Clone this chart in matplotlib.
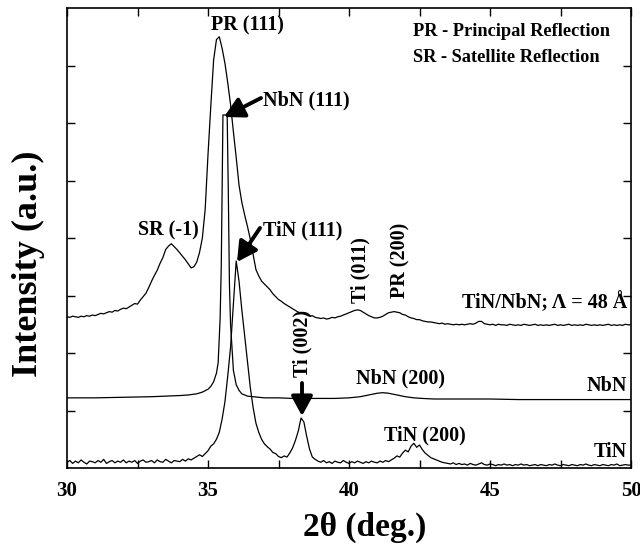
import numpy as np
import matplotlib
matplotlib.use("Agg")
import matplotlib.pyplot as plt

# ---------------- data ----------------
two_theta = np.round(np.arange(30.0, 50.0001, 0.1), 2)

multilayer = [
    2.63, 2.62, 2.64, 2.63, 2.62, 2.64, 2.63, 2.65, 2.64, 2.66,
    2.65, 2.67, 2.69, 2.68, 2.70, 2.72, 2.71, 2.74, 2.73, 2.76,
    2.78, 2.77, 2.80, 2.83, 2.86, 2.85, 2.92, 2.98, 3.04, 3.14,
    3.25, 3.35, 3.44, 3.56, 3.66, 3.80, 3.86, 3.90, 3.85, 3.80,
    3.74, 3.68, 3.62, 3.55, 3.48, 3.50, 3.58, 3.75, 4.00, 4.50,
    5.45, 6.30, 7.10, 7.45, 7.50, 7.30, 7.04, 6.70, 6.32, 5.85,
    5.40, 4.92, 4.62, 4.40, 4.20, 3.98, 3.72, 3.45, 3.34, 3.25,
    3.20, 3.15, 3.10, 3.03, 2.98, 2.93, 2.90, 2.86, 2.83, 2.80,
    2.77, 2.74, 2.71, 2.70, 2.68, 2.66, 2.64, 2.65, 2.62, 2.61,
    2.60, 2.61, 2.59, 2.60, 2.62, 2.61, 2.63, 2.64, 2.66, 2.68,
    2.70, 2.72, 2.74, 2.75, 2.74, 2.71, 2.68, 2.65, 2.63, 2.61,
    2.61, 2.62, 2.64, 2.67, 2.70, 2.71, 2.72, 2.71, 2.70, 2.67,
    2.66, 2.63, 2.61, 2.60, 2.58, 2.58, 2.56, 2.55, 2.54, 2.54,
    2.53, 2.52, 2.51, 2.52, 2.50, 2.51, 2.50, 2.49, 2.50, 2.49,
    2.50, 2.49, 2.50, 2.51, 2.50, 2.52, 2.55, 2.55, 2.51, 2.50,
    2.49, 2.50, 2.48, 2.50, 2.49, 2.49, 2.48, 2.50, 2.49, 2.48,
    2.49, 2.48, 2.50, 2.49, 2.48, 2.49, 2.50, 2.48, 2.49, 2.48,
    2.49, 2.48, 2.49, 2.50, 2.48, 2.49, 2.48, 2.49, 2.50, 2.48,
    2.49, 2.48, 2.49, 2.48, 2.50, 2.49, 2.48, 2.49, 2.48, 2.49,
    2.48, 2.49, 2.50, 2.48, 2.49, 2.48, 2.49, 2.48, 2.50, 2.49,
    2.49,
]

tin = [
    0.10, 0.13, 0.08, 0.12, 0.09, 0.14, 0.10, 0.07, 0.12, 0.11,
    0.09, 0.13, 0.10, 0.15, 0.08, 0.11, 0.13, 0.09, 0.12, 0.10,
    0.14, 0.09, 0.12, 0.10, 0.13, 0.08, 0.12, 0.14, 0.10, 0.11,
    0.13, 0.09, 0.14, 0.11, 0.10, 0.15, 0.12, 0.09, 0.13, 0.12,
    0.11, 0.15, 0.12, 0.16, 0.14, 0.17, 0.20, 0.23, 0.20, 0.25,
    0.30, 0.38, 0.42, 0.50, 0.62, 0.85, 1.15, 1.60, 2.10, 2.85,
    3.60, 3.25, 2.75, 2.30, 1.85, 1.40, 1.05, 0.78, 0.62, 0.50,
    0.42, 0.37, 0.33, 0.27, 0.25, 0.20, 0.18, 0.21, 0.19, 0.26,
    0.35, 0.48, 0.64, 0.87, 0.80, 0.55, 0.33, 0.19, 0.15, 0.12,
    0.10, 0.13, 0.09, 0.11, 0.08, 0.12, 0.10, 0.09, 0.13, 0.10,
    0.08, 0.11, 0.09, 0.12, 0.10, 0.08, 0.11, 0.09, 0.12, 0.10,
    0.09, 0.12, 0.10, 0.13, 0.11, 0.14, 0.17, 0.21, 0.19, 0.26,
    0.31, 0.28, 0.38, 0.43, 0.36, 0.40, 0.32, 0.26, 0.22, 0.18,
    0.16, 0.14, 0.12, 0.10, 0.09, 0.08, 0.07, 0.09, 0.06, 0.08,
    0.06, 0.07, 0.05, 0.08, 0.06, 0.05, 0.07, 0.09, 0.06, 0.05,
    0.07, 0.06, 0.04, 0.06, 0.05, 0.07, 0.05, 0.06, 0.04, 0.06,
    0.05, 0.07, 0.05, 0.06, 0.04, 0.05, 0.06, 0.04, 0.06, 0.05,
    0.04, 0.06, 0.05, 0.07, 0.05, 0.04, 0.06, 0.05, 0.04, 0.06,
    0.05, 0.04, 0.06, 0.05, 0.07, 0.05, 0.04, 0.06, 0.05, 0.04,
    0.06, 0.05, 0.04, 0.06, 0.05, 0.07, 0.04, 0.05, 0.06, 0.05,
    0.05,
]

nbn_x = [30.0, 31.0, 32.0, 33.0, 33.5, 34.0, 34.3, 34.6, 34.8, 35.0,
         35.1, 35.2, 35.3, 35.36, 35.43, 35.47, 35.5, 35.53, 35.68, 35.72,
         35.76, 35.8, 35.9, 36.0, 36.1, 36.2, 36.4, 36.6, 36.8, 37.0,
         37.5, 38.0, 38.5, 39.0, 39.5, 40.0, 40.4, 40.7, 41.0, 41.2,
         41.4, 41.7, 42.0, 42.3, 42.6, 43.0, 44.0, 45.0, 46.0, 47.0,
         48.0, 49.0, 50.0]
nbn_y = [1.22, 1.22, 1.23, 1.24, 1.25, 1.26, 1.27, 1.29, 1.32, 1.37,
         1.42, 1.50, 1.65, 1.83, 2.60, 3.50, 4.80, 6.14, 6.14, 4.80,
         3.20, 2.50, 1.70, 1.45, 1.35, 1.29, 1.25, 1.24, 1.23, 1.22,
         1.22, 1.21, 1.21, 1.21, 1.21, 1.22, 1.24, 1.27, 1.30, 1.31,
         1.30, 1.27, 1.24, 1.22, 1.21, 1.20, 1.20, 1.20, 1.19, 1.19,
         1.19, 1.19, 1.19]

x_ticks_major = [30, 35, 40, 45, 50]
x_ticks_minor = [32.5, 37.5, 42.5, 47.5]
y_ticks = [1, 2, 3, 4, 5, 6, 7]

# ---------------- figure ----------------
W, H = 640, 545
fig = plt.figure(figsize=(W / 100, H / 100), dpi=100)
L, R, T, B = 67, 631, 8, 468
ax = fig.add_axes([L / W, 1 - B / H, (R - L) / W, (B - T) / H])

XMIN, XMAX, YMIN, YMAX = 30, 50, 0, 8
ax.set_xlim(XMIN, XMAX)
ax.set_ylim(YMIN, YMAX)


def px(xp):
    return XMIN + (xp - L) / (R - L) * (XMAX - XMIN)


def py(yp):
    return YMIN + (B - yp) / (B - T) * (YMAX - YMIN)


lw = 0.9
ax.plot(two_theta, multilayer, color="black", lw=lw)
ax.plot(nbn_x, nbn_y, color="black", lw=lw)
ax.plot(two_theta, tin, color="black", lw=lw)

serif = ["Liberation Serif", "DejaVu Serif"]

ax.set_xticks(x_ticks_major)
ax.set_xticks(x_ticks_minor, minor=True)
ax.set_yticks(y_ticks)
ax.set_yticklabels([])
ax.tick_params(axis="both", which="both", direction="in", length=6, width=1,
               top=True, right=True)
ax.tick_params(axis="x", which="major", pad=9)
for lab in ax.get_xticklabels():
    lab.set_fontfamily(serif)
    lab.set_fontweight("bold")
    lab.set_fontsize(15)
for s in ax.spines.values():
    s.set_linewidth(1.2)

fig.text(365 / W, 1 - 527 / H, "2\u03b8 (deg.)", ha="center", va="center",
         fontsize=24, fontweight="bold", family=serif)
fig.text(28 / W, 1 - 264 / H, "Intensity (a.u.)", ha="center", va="center",
         rotation=90, fontsize=26, fontweight="bold", family=serif)

tk = dict(fontsize=14.5, fontweight="bold", family=serif, color="black")

ax.text(px(247), py(25), "PR (111)", ha="center", va="center", **tk)
ax.text(px(263), py(100), "NbN (111)", ha="left", va="center", **tk)
ax.text(px(263), py(230), "TiN (111)", ha="left", va="center", **tk)
ax.text(px(168), py(230), "SR (-1)", ha="center", va="center", **tk)
ax.text(px(360), py(270), "Ti (011)", ha="center", va="center", rotation=90, **tk)
ax.text(px(400), py(260), "PR (200)", ha="center", va="center", rotation=90, **tk)
ax.text(px(302), py(343), "Ti (002)", ha="center", va="center", rotation=90, **tk)
ax.text(px(627), py(303), "TiN/NbN; \u039b = 48 \u00c5", ha="right", va="center", **tk)
ax.text(px(400), py(378), "NbN (200)", ha="center", va="center", **tk)
ax.text(px(627), py(386), "NbN", ha="right", va="center", **tk)
ax.text(px(425), py(435), "TiN (200)", ha="center", va="center", **tk)
ax.text(px(627), py(452), "TiN", ha="right", va="center", **tk)

lg = dict(fontsize=13.2, fontweight="bold", family=serif, color="black")
ax.text(px(413), py(31), "PR - Principal Reflection", ha="left", va="center", **lg)
ax.text(px(413), py(57), "SR - Satellite Reflection", ha="left", va="center", **lg)

arrow = dict(arrowstyle="-|>,head_length=0.7,head_width=0.38", lw=2.8,
             color="black", shrinkA=0, shrinkB=0, mutation_scale=17)
ax.annotate("", xy=(px(224), py(117)), xytext=(px(261), py(98)), arrowprops=arrow)
ax.annotate("", xy=(px(237), py(262)), xytext=(px(260), py(228)), arrowprops=arrow)
ax.annotate("", xy=(px(302), py(416)), xytext=(px(302), py(383)), arrowprops=arrow)

fig.savefig("out.png", dpi=100, facecolor="white")
